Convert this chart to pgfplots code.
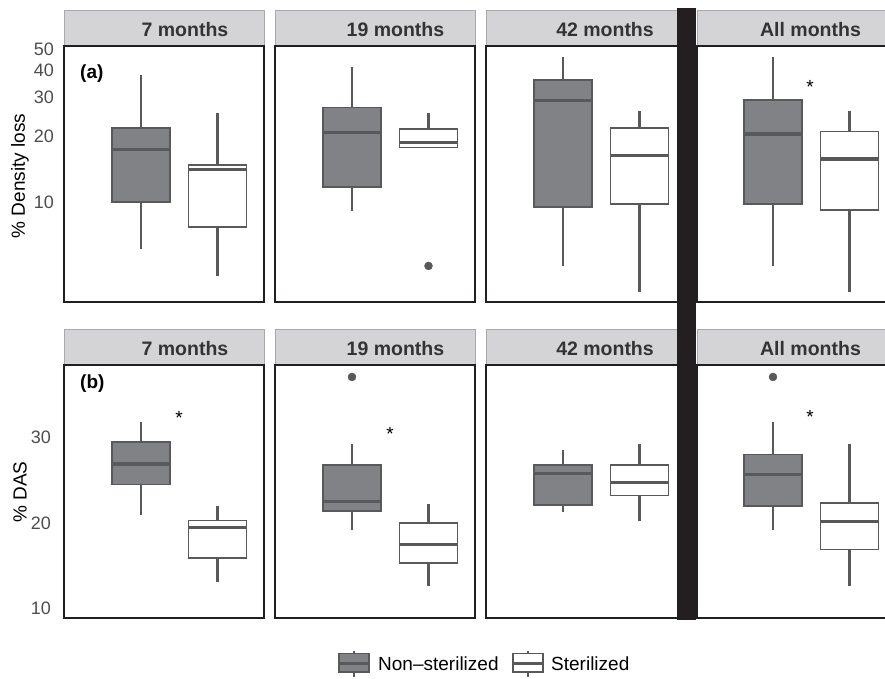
\documentclass[border=0pt]{standalone}
\usepackage{fontspec}
\setmainfont{Liberation Sans}
\usepackage{pgfplots}
\pgfplotsset{compat=1.18}
\usepgfplotslibrary{statistics}
\definecolor{nsfill}{HTML}{808285}
\definecolor{boxline}{HTML}{58595B}
\definecolor{stripfill}{HTML}{D4D4D6}
\definecolor{stripline}{HTML}{A7A9AC}
\definecolor{frame}{HTML}{231F20}
\definecolor{ticktext}{HTML}{4D4D4D}
\definecolor{striptext}{HTML}{333333}

% Top row: % density loss is drawn on a log10 scale; the values below are
% log10 of the percentages (e.g. 1.0 = 10 %, 1.30103 = 20 %).
\pgfplotsset{
  panel/.style={scale only axis, width=200pt, xmin=0, xmax=200, xtick=\empty,
    anchor=north west, axis line style={draw=frame, line width=1.8pt},
    major tick length=0pt, ytick=\empty, clip=false,
    boxplot/draw direction=y, boxplot/whisker extend=0,
    boxplot/every median/.style={line width=3.2pt, draw=boxline},
    boxplot/every whisker/.style={line width=2.2pt, draw=boxline},
    boxplot/every box/.style={line width=1.6pt, draw=boxline},
    /pgf/number format/assume math mode=true,
    yticklabel style={font=\fontsize{18}{18}\selectfont, text=ticktext, anchor=east, inner sep=0pt}},
  toprow/.style={panel, height=256pt, ymin=0.5428, ymax=1.7118},
  botrow/.style={panel, height=253pt, ymin=8.86, ymax=38.5},
  ns/.style={fill=nsfill, draw=boxline, line width=1.6pt},
  st/.style={fill=white, draw=boxline, line width=1.6pt},
  outl/.style={only marks, mark=*, mark size=4pt, draw=boxline, fill=boxline},
}
\newcommand{\strip}[4]{% x, ytop, label, centre
  \filldraw[fill=stripfill, draw=stripline, line width=0.8pt] (#1pt,-#2pt) rectangle ({#1pt+200pt},{-#2pt-36pt});
  \node[anchor=base, font=\fontsize{19.5}{19.5}\selectfont\bfseries, text=striptext] at (#4pt,{-#2pt-26pt}) {#3};}
\newcommand{\starnode}[2]{\node[anchor=base, font=\fontsize{19}{19}\selectfont, yshift=-10pt] at (axis cs:#1,#2) {*};}

\begin{document}
\begin{tikzpicture}
% strips
\strip{64}{10}{7 months}{185}
\strip{275}{10}{19 months}{395.5}
\strip{486}{10}{42 months}{605}
\strip{697}{10}{All months}{810.5}
\strip{64}{329}{7 months}{185}
\strip{275}{329}{19 months}{395.5}
\strip{486}{329}{42 months}{605}
\strip{697}{329}{All months}{810.5}

% ---------- top row: % density loss (log10 values)
\begin{axis}[toprow, at={(64pt,-46pt)}, ytick={1,1.30103,1.47712,1.60206,1.69897}, yticklabels={10,20,30,40,50},
  yticklabel style={xshift=-10pt}]
\addplot[ns, boxplot prepared={draw position=77, box extend=58, lower whisker=0.7853, lower quartile=1.0000, median=1.2405, upper quartile=1.3385, upper whisker=1.5798}] coordinates {};
\addplot[st, boxplot prepared={draw position=153.5, box extend=58, lower whisker=0.6628, lower quartile=0.8865, median=1.1461, upper quartile=1.1673, upper whisker=1.4048}] coordinates {};
\node[anchor=west, font=\fontsize{19}{19}\selectfont\bfseries, inner sep=0pt] at (axis cs:16,1.5855) {(a)};
\end{axis}
\begin{axis}[toprow, at={(275pt,-46pt)}]
\addplot[ns, boxplot prepared={draw position=77, box extend=58, lower whisker=0.9590, lower quartile=1.0682, median=1.3181, upper quartile=1.4314, upper whisker=1.6149}] coordinates {};
\addplot[st, boxplot prepared={draw position=153.5, box extend=58, lower whisker=1.2480, lower quartile=1.2480, median=1.2718, upper quartile=1.3324, upper whisker=1.4048}] coordinates {};
\addplot[outl] coordinates {(153.5,0.7076)};
\end{axis}
\begin{axis}[toprow, at={(486pt,-46pt)}]
\addplot[ns, boxplot prepared={draw position=77, box extend=58, lower whisker=0.7076, lower quartile=0.9777, median=1.4624, upper quartile=1.5575, upper whisker=1.6609}] coordinates {};
\addplot[st, boxplot prepared={draw position=153.5, box extend=58, lower whisker=0.5866, lower quartile=0.9912, median=1.2122, upper quartile=1.3385, upper whisker=1.4166}] coordinates {};
\end{axis}
\begin{axis}[toprow, at={(697pt,-46pt)}]
\addplot[ns, boxplot prepared={draw position=76, box extend=58, lower whisker=0.7076, lower quartile=0.9894, median=1.3096, upper quartile=1.4654, upper whisker=1.6609}] coordinates {};
\addplot[st, boxplot prepared={draw position=152.5, box extend=58, lower whisker=0.5866, lower quartile=0.9638, median=1.1959, upper quartile=1.3222, upper whisker=1.4166}] coordinates {};
\starnode{113}{1.5416}
\end{axis}

% ---------- bottom row: % DAS (linear)
\begin{axis}[botrow, at={(64pt,-365pt)}, ytick={10,20,30}, yticklabels={10,20,30},
  yticklabel style={xshift=-13pt}]
\addplot[ns, boxplot prepared={draw position=77, box extend=58, lower whisker=20.9, lower quartile=24.5, median=26.9, upper quartile=29.5, upper whisker=31.8}] coordinates {};
\addplot[st, boxplot prepared={draw position=153.5, box extend=58, lower whisker=13.1, lower quartile=15.9, median=19.5, upper quartile=20.3, upper whisker=22.0}] coordinates {};
\node[anchor=west, font=\fontsize{19}{19}\selectfont\bfseries, inner sep=0pt] at (axis cs:16,36.3) {(b)};
\starnode{115}{32.7}
\end{axis}
\begin{axis}[botrow, at={(275pt,-365pt)}]
\addplot[ns, boxplot prepared={draw position=77, box extend=58, lower whisker=19.2, lower quartile=21.4, median=22.5, upper quartile=26.8, upper whisker=29.3}] coordinates {};
\addplot[st, boxplot prepared={draw position=153.5, box extend=58, lower whisker=12.6, lower quartile=15.3, median=17.5, upper quartile=20.0, upper whisker=22.2}] coordinates {};
\addplot[outl] coordinates {(77,37.1)};
\starnode{115}{30.8}
\end{axis}
\begin{axis}[botrow, at={(486pt,-365pt)}]
\addplot[ns, boxplot prepared={draw position=77, box extend=58, lower whisker=21.3, lower quartile=22.1, median=25.8, upper quartile=26.8, upper whisker=28.5}] coordinates {};
\addplot[st, boxplot prepared={draw position=153.5, box extend=58, lower whisker=20.2, lower quartile=23.2, median=24.7, upper quartile=26.8, upper whisker=29.3}] coordinates {};
\end{axis}
\begin{axis}[botrow, at={(697pt,-365pt)}]
\addplot[ns, boxplot prepared={draw position=76, box extend=58, lower whisker=19.2, lower quartile=22.0, median=25.7, upper quartile=28.0, upper whisker=31.8}] coordinates {};
\addplot[st, boxplot prepared={draw position=152.5, box extend=58, lower whisker=12.6, lower quartile=16.9, median=20.2, upper quartile=22.3, upper whisker=29.3}] coordinates {};
\addplot[outl] coordinates {(76,37.1)};
\starnode{113}{32.8}
\end{axis}

% y labels
\node[rotate=90, font=\fontsize{19}{19}\selectfont] at (20pt,-176pt) {\% Density loss};
\node[rotate=90, font=\fontsize{19}{19}\selectfont] at (20pt,-492pt) {\% DAS};

% black separator bar
\fill[frame] (677pt,-8pt) rectangle (696pt,-620pt);

% legend
\draw[boxline, line width=1.5pt] (354pt,-651pt) -- (354pt,-677pt);
\filldraw[fill=nsfill, draw=boxline, line width=1.5pt] (339pt,-653.5pt) rectangle (369pt,-672pt);
\draw[boxline, line width=3pt] (339.8pt,-663pt) -- (368.2pt,-663pt);
\node[anchor=base west, inner sep=0pt, font=\fontsize{19}{19}\selectfont] at (378pt,-670pt) {Non–sterilized};
\draw[boxline, line width=1.5pt] (528pt,-651pt) -- (528pt,-677pt);
\filldraw[fill=white, draw=boxline, line width=1.5pt] (513pt,-653.5pt) rectangle (543pt,-672pt);
\draw[boxline, line width=3pt] (513.8pt,-663pt) -- (542.2pt,-663pt);
\node[anchor=base west, inner sep=0pt, font=\fontsize{19}{19}\selectfont] at (551pt,-670pt) {Sterilized};

\pgfresetboundingbox
\path[use as bounding box] (0pt,0pt) rectangle (885pt,-678pt);
\end{tikzpicture}
\end{document}
